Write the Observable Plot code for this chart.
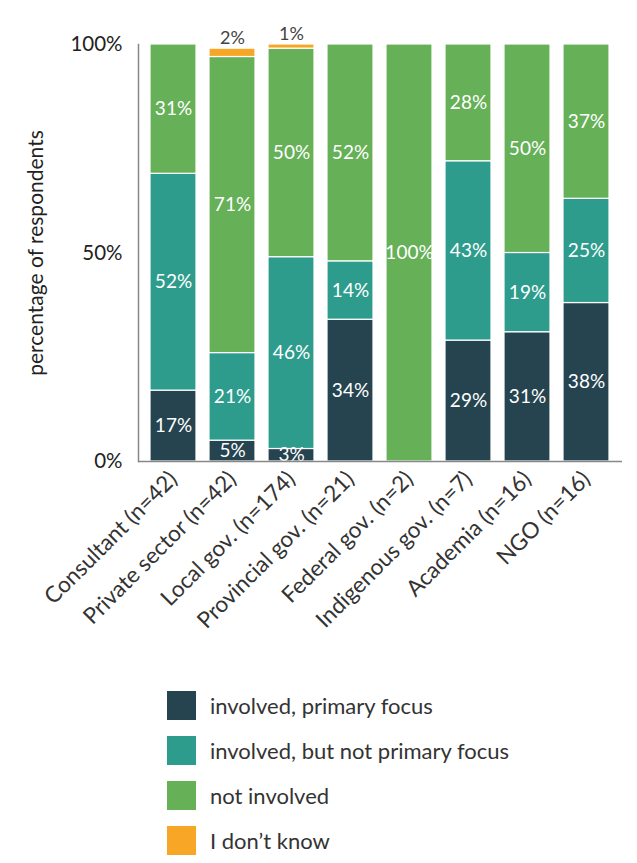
<!DOCTYPE html>
<html>
<head>
<meta charset="utf-8">
<script src="https://cdn.jsdelivr.net/npm/d3@7"></script>
<script src="https://cdn.jsdelivr.net/npm/@observablehq/plot@0.6"></script>
<style>
  body { margin: 0; background: #fff; font-family: Lato, "Open Sans", sans-serif; }
  #chart { width: 637px; }
  .legend { margin: 33px 0 0 167px; }
  .legend .row { display: flex; align-items: center; height: 45px; }
  .legend .sw { width: 29px; height: 29px; margin-right: 14px; }
  .legend .lb { font-size: 22px; color: #333; }
</style>
</head>
<body>
<div id="chart"></div>
<script>
const categories = ["Consultant (n=42)", "Private sector (n=42)", "Local gov. (n=174)", "Provincial gov. (n=21)", "Federal gov. (n=2)", "Indigenous gov. (n=7)", "Academia (n=16)", "NGO (n=16)"];
const series = ["involved, primary focus", "involved, but not primary focus", "not involved", "I don\u2019t know"];
const colors = ["#25444f", "#2e9c8d", "#66b058", "#f8a626"];
const primaryFocus = [17, 5, 3, 34, 0, 29, 31, 38];
const notPrimaryFocus = [52, 21, 46, 14, 0, 43, 19, 25];
const notInvolved = [31, 71, 50, 52, 100, 28, 50, 37];
const dontKnow = [0, 2, 1, 0, 0, 0, 0, 0];
const yTicks = [0, 50, 100];

const valuesBySeries = [primaryFocus, notPrimaryFocus, notInvolved, dontKnow];
const data = [];
categories.forEach((c, i) => {
  series.forEach((s, j) => {
    const v = valuesBySeries[j][i];
    if (v > 0) data.push({category: c, series: s, value: v});
  });
});
const small = s => s === series[3];

const plot = Plot.plot({
  width: 637,
  height: 650,
  marginLeft: 138,
  marginRight: 15,
  marginTop: 44,
  marginBottom: 189,
  style: {fontFamily: "Lato, 'Open Sans', sans-serif", color: "#222", background: "white"},
  x: {domain: categories, paddingInner: 0.215, paddingOuter: 0.15, label: null},
  y: {domain: [0, 100], label: null},
  color: {domain: series, range: colors},
  marks: [
    Plot.barY(data, Plot.stackY({
      x: "category", y: "value", z: "series", fill: "series", order: series,
      stroke: "white", strokeWidth: 1.2
    })),
    Plot.text(data, Plot.stackY({
      x: "category", y: "value", z: "series", order: series,
      text: d => small(d.series) ? "" : d.value + "%",
      fill: "white", fontSize: 19
    })),
    Plot.text(data, Plot.stackY2({
      x: "category", y: "value", z: "series", order: series,
      text: d => small(d.series) ? d.value + "%" : "",
      fill: "#444", fontSize: 18, dy: -10
    })),
    Plot.ruleY([0], {stroke: "#888", strokeWidth: 1.5}),
    Plot.frame({anchor: "left", stroke: "#888", strokeWidth: 1.5}),
    Plot.axisY({
      ticks: yTicks, tickFormat: d => d + "%", tickSize: 0, tickPadding: 16,
      fontSize: 20.5, label: null
    }),
    Plot.axisY({
      ticks: [], tickSize: 0, fontSize: 21, label: "percentage of respondents",
      labelAnchor: "center", labelArrow: "none", labelOffset: 110
    }),
    Plot.axisX({tickRotate: -45, tickSize: 0, tickPadding: 14, fontSize: 22.5, fill: "#333", label: null})
  ]
});
document.getElementById("chart").appendChild(plot);

const legend = document.createElement("div");
legend.className = "legend";
series.forEach((s, i) => {
  const row = document.createElement("div");
  row.className = "row";
  const sw = document.createElement("div");
  sw.className = "sw";
  sw.style.background = colors[i];
  const lb = document.createElement("span");
  lb.className = "lb";
  lb.textContent = s;
  row.appendChild(sw);
  row.appendChild(lb);
  legend.appendChild(row);
});
document.getElementById("chart").appendChild(legend);
</script>
</body>
</html>
